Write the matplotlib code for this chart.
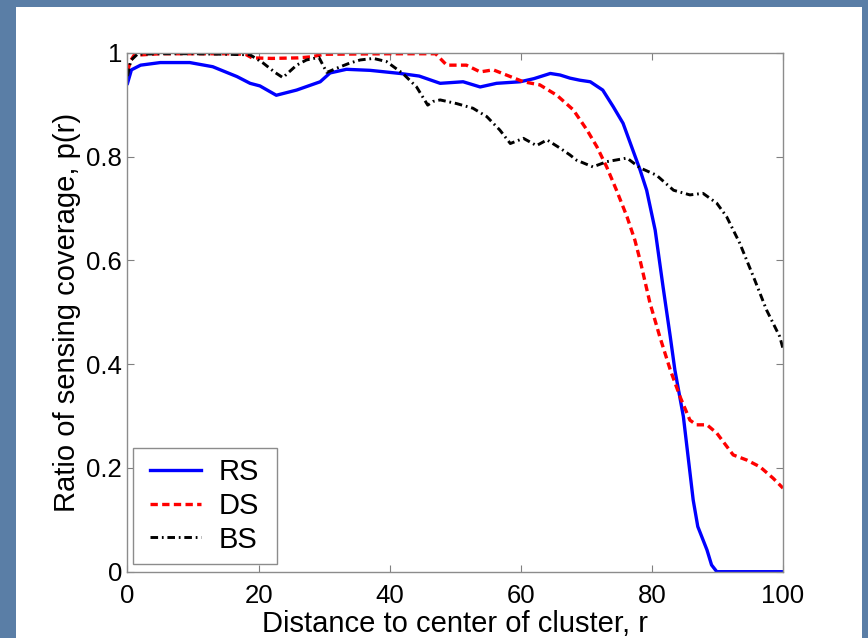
import matplotlib
matplotlib.use("Agg")
import matplotlib.pyplot as plt
from matplotlib.patches import Rectangle

plt.rcParams['font.family'] = ['Liberation Sans', 'DejaVu Sans']

# coverage ratio vs. distance from cluster centre
rs_r = [0, 0.6, 2, 5, 9.5, 13, 16.7, 18.7, 20.2, 22.7, 25.8, 29.4, 30.9, 33.4, 37,
        41.6, 44.5, 47.7, 51.2, 53.8, 56.3, 59.9, 62, 64.5, 66, 67.5, 69, 70.6,
        72.5, 74.1, 75.6, 76.9, 78.2, 79.2, 80.5, 81.7, 82.8, 83.5, 84.8, 86.3,
        87.0, 88.4, 89.1, 89.9, 100]
rs_p = [0.941, 0.967, 0.976, 0.981, 0.981, 0.973, 0.954, 0.941, 0.936, 0.918,
        0.928, 0.944, 0.961, 0.968, 0.966, 0.960, 0.955, 0.941, 0.944, 0.934,
        0.941, 0.944, 0.950, 0.960, 0.957, 0.951, 0.947, 0.944, 0.928, 0.896,
        0.864, 0.819, 0.774, 0.735, 0.658, 0.549, 0.453, 0.389, 0.299, 0.138,
        0.087, 0.042, 0.013, 0.0, 0.0]

ds_r = [0, 0.5, 1, 5, 10, 15, 18, 19, 22, 26, 28, 30, 40, 47, 48.7, 51.7, 53.8,
        55.8, 57.8, 60.4, 62.9, 65.5, 68, 70.1, 71.6, 73.1, 74.6, 76.2, 77.4,
        78.2, 79.7, 81.2, 82.8, 84.3, 85.8, 86.8, 88.4, 89.9, 92.4, 94.5, 96.5,
        98.5, 100]
ds_p = [0.965, 0.985, 0.995, 0.998, 0.998, 0.998, 0.997, 0.990, 0.989, 0.990,
        0.992, 0.997, 0.998, 0.998, 0.976, 0.976, 0.963, 0.967, 0.957, 0.944,
        0.938, 0.918, 0.890, 0.851, 0.819, 0.780, 0.735, 0.684, 0.639, 0.600,
        0.518, 0.453, 0.389, 0.337, 0.292, 0.283, 0.283, 0.267, 0.225, 0.215,
        0.202, 0.180, 0.161]

bs_r = [0, 0.5, 1.5, 5, 10, 15, 18.7, 20.7, 22.5, 23.7, 25.8, 27.3, 29.2, 30.4,
        31.9, 33.9, 35.5, 37.5, 39.5, 42, 44.1, 45.8, 46.6, 47.7, 50.2, 52.7,
        54.8, 56.8, 58.4, 60.4, 62.4, 64.0, 66.0, 67.5, 68.5, 71, 73.1, 76.2,
        78.2, 80.7, 83.3, 85.8, 87.8, 89.9, 91.4, 93.4, 95.5, 97.5, 99.5, 100]
bs_p = [0.955, 0.985, 0.997, 0.998, 0.998, 0.997, 0.996, 0.980, 0.962, 0.952,
        0.976, 0.986, 0.991, 0.962, 0.970, 0.980, 0.986, 0.989, 0.983, 0.960,
        0.934, 0.899, 0.906, 0.909, 0.902, 0.893, 0.877, 0.851, 0.825, 0.835,
        0.821, 0.832, 0.816, 0.803, 0.793, 0.780, 0.790, 0.797, 0.778, 0.764,
        0.735, 0.726, 0.729, 0.710, 0.684, 0.633, 0.568, 0.504, 0.453, 0.430]

xticks = [0, 20, 40, 60, 80, 100]
yticks = [0, 0.2, 0.4, 0.6, 0.8, 1]
ytick_labels = ['0', '0.2', '0.4', '0.6', '0.8', '1']

W, H = 868, 638
fig = plt.figure(figsize=(W / 100, H / 100), dpi=100, facecolor='#5a7ea6')

# white slide panel behind the plot
fig.patches.append(Rectangle((16 / W, 0), 846 / W, 631 / H, transform=fig.transFigure,
                             facecolor='white', edgecolor='none', zorder=-5))

ax = fig.add_axes([127.5 / W, 66.3 / H, 655.5 / W, 519 / H])
ax.set_facecolor('white')
ax.set_zorder(2)

ax.plot(rs_r, rs_p, color='#0000ff', lw=2.4, label='RS')
ax.plot(ds_r, ds_p, color='#ff0000', lw=2.4, dashes=(2.2, 1.3), label='DS')
ax.plot(bs_r, bs_p, color='black', lw=2.1, dashes=(2.6, 1.3, 0.6, 1.3), label='BS')

ax.set_xlim(0, 100)
ax.set_ylim(0, 1)
ax.set_xticks(xticks)
ax.set_yticks(yticks)
ax.set_yticklabels(ytick_labels)
ax.tick_params(direction='in', length=5, width=0.8, color='#808080',
               top=True, right=True, labelsize=18.5)
ax.tick_params(axis='x', pad=9)
ax.tick_params(axis='y', pad=4)
for s in ax.spines.values():
    s.set_color('#8c8c8c')
    s.set_linewidth(1.0)

ax.set_xlabel('Distance to center of cluster, r', fontsize=21, labelpad=1)
ax.set_ylabel('Ratio of sensing coverage, p(r)', fontsize=21, labelpad=4)

# legend box drawn separately so it can be wider than the entries need
ax.add_patch(Rectangle((0.0084, 0.0148), 0.2197, 0.2235, transform=ax.transAxes,
                       facecolor='white', edgecolor='#8c8c8c', linewidth=1.0, zorder=4))
leg = ax.legend(loc='lower left', bbox_to_anchor=(0.019, 0.015), borderaxespad=0,
                fontsize=21, frameon=False, handlelength=1.75,
                handletextpad=0.6, labelspacing=0.2, borderpad=0.35)
leg.set_zorder(5)

fig.savefig('out.png', dpi=100, facecolor=fig.get_facecolor())
